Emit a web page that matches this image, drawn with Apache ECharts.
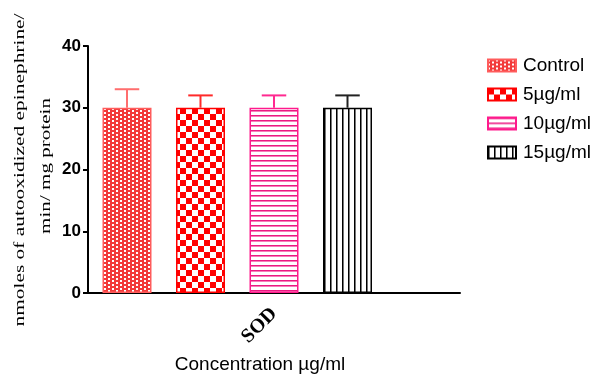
<!DOCTYPE html>
<html>
<head>
<meta charset="utf-8">
<script src="https://cdn.jsdelivr.net/npm/echarts@6/dist/echarts.min.js"></script>
<style>
html,body{margin:0;padding:0;background:#fff;}
#chart{width:595px;height:376px;}
</style>
</head>
<body>
<div id="chart"></div>
<script>
// ---- data ----
const categories = ['SOD'];
const seriesNames = ['Control', '5µg/ml', '10µg/ml', '15µg/ml'];
const meanValues = [30, 30, 30, 30];
const errorValues = [3, 2, 2, 2];
const yTicks = [0, 10, 20, 30, 40];
const yTitleLines = ['nmoles of autooxidized epinephrine/', 'min/ mg protein'];
const xTitle = 'Concentration µg/ml';

// ---- styles ----
const BAR_W = 49, BAR_GAP = 24.5, SLOTS = 5;
const borderColors = ['#ff5c5c', '#ff0000', '#ff1a8c', '#000000'];
const errColors = ['#ff6e6e', '#ff2a2a', '#ff2a90', '#222222'];

function tile(w, h, draw) {
  const c = document.createElement('canvas');
  c.width = w; c.height = h;
  const ctx = c.getContext('2d');
  draw(ctx);
  return { image: c, repeat: 'repeat' };
}
const patterns = [
  tile(8, 4, ctx => { ctx.fillStyle = '#f23a3a'; ctx.fillRect(0,0,8,4); ctx.fillStyle = '#fff'; ctx.fillRect(0,0,2,2); ctx.fillRect(4,2,2,2); }),
  tile(12, 12, ctx => { ctx.fillStyle = '#fff'; ctx.fillRect(0,0,12,12); ctx.fillStyle = '#ff0000'; ctx.fillRect(0,0,6,6); ctx.fillRect(6,6,6,6); }),
  tile(1, 5, ctx => { ctx.fillStyle = '#fff'; ctx.fillRect(0,0,1,5); ctx.fillStyle = '#ea1a82'; ctx.fillRect(0,0,1,1); ctx.fillStyle = '#f87cba'; ctx.fillRect(0,1,1,1); }),
  tile(6, 1, ctx => { ctx.fillStyle = '#fff'; ctx.fillRect(0,0,6,1); ctx.fillStyle = '#000'; ctx.fillRect(0,0,1,1); ctx.fillStyle = '#777'; ctx.fillRect(1,0,1,1); })
];

const series = seriesNames.map((name, i) => ({
  name: name,
  type: 'bar',
  data: [meanValues[i]],
  barWidth: BAR_W,
  barGap: (BAR_GAP / BAR_W * 100) + '%',
  itemStyle: { color: patterns[i], borderColor: borderColors[i], borderWidth: 1.5 },
  z: 2
}));
// empty fifth slot (keeps the group layout of the original)
series.push({ name: '_empty', type: 'bar', data: [null], barWidth: BAR_W, barGap: (BAR_GAP / BAR_W * 100) + '%' });

// error bars
const errData = meanValues.map((m, i) => [0, m, errorValues[i], i]);
series.push({
  type: 'custom',
  name: 'err',
  z: 3,
  data: errData,
  encode: { x: 0, y: 1 },
  renderItem: function (params, api) {
    const slot = api.value(3);
    const mean = api.value(1), err = api.value(2);
    const center = api.coord([api.value(0), mean]);
    const top = api.coord([api.value(0), mean + err]);
    const pitch = BAR_W + BAR_GAP;
    const x = center[0] + (slot - (SLOTS - 1) / 2) * pitch;
    const half = BAR_W / 4;
    const st = { stroke: errColors[slot], lineWidth: 2, fill: null };
    return {
      type: 'group',
      children: [
        { type: 'line', shape: { x1: x, y1: center[1], x2: x, y2: top[1] }, style: st },
        { type: 'line', shape: { x1: x - half, y1: top[1], x2: x + half, y2: top[1] }, style: st }
      ]
    };
  }
});

const chart = echarts.init(document.getElementById('chart'), null, { renderer: 'canvas' });
chart.setOption({
  animation: false,
  backgroundColor: '#fff',
  grid: { left: 88, right: 135, top: 46, bottom: 83, containLabel: false },
  legend: {
    data: seriesNames,
    orient: 'vertical',
    left: 482,
    top: 51,
    icon: 'rect',
    itemWidth: 28,
    itemHeight: 12,
    itemGap: 10,
    textStyle: { fontFamily: 'Liberation Sans, Arial', fontSize: 19, color: '#000', padding: [0, 0, 0, 2] }
  },
  xAxis: {
    type: 'category',
    data: categories,
    axisLine: { lineStyle: { color: '#000', width: 2 } },
    axisTick: { alignWithLabel: true, length: 6, lineStyle: { color: '#000', width: 2 } },
    axisLabel: { rotate: 45, margin: 18, fontFamily: 'Liberation Serif, Times New Roman', fontWeight: 'bold', fontSize: 20, color: '#000' }
  },
  yAxis: {
    type: 'value',
    min: yTicks[0],
    max: yTicks[yTicks.length - 1],
    interval: yTicks[1] - yTicks[0],
    splitLine: { show: false },
    axisLine: { show: true, lineStyle: { color: '#000', width: 2 } },
    axisTick: { show: true, length: 5, lineStyle: { color: '#000', width: 2 } },
    axisLabel: { margin: 7, fontFamily: 'Liberation Sans, Arial', fontWeight: 'bold', fontSize: 17, color: '#000' }
  },
  graphic: [
    { type: 'text', x: 20, y: 170, rotation: Math.PI / 2, scaleX: 1.38, scaleY: 1,
      style: { text: yTitleLines[0], font: '15.5px "Liberation Serif", "Times New Roman", serif', fill: '#000', textAlign: 'center', textVerticalAlign: 'middle' } },
    { type: 'text', x: 46, y: 166, rotation: Math.PI / 2, scaleX: 1.36, scaleY: 1,
      style: { text: yTitleLines[1], font: '15.5px "Liberation Serif", "Times New Roman", serif', fill: '#000', textAlign: 'center', textVerticalAlign: 'middle' } },
    { type: 'text', x: 260, y: 365,
      style: { text: xTitle, font: '19px "Liberation Sans", Arial, sans-serif', fill: '#000', textAlign: 'center', textVerticalAlign: 'middle' } }
  ],
  series: series
});
</script>
</body>
</html>
